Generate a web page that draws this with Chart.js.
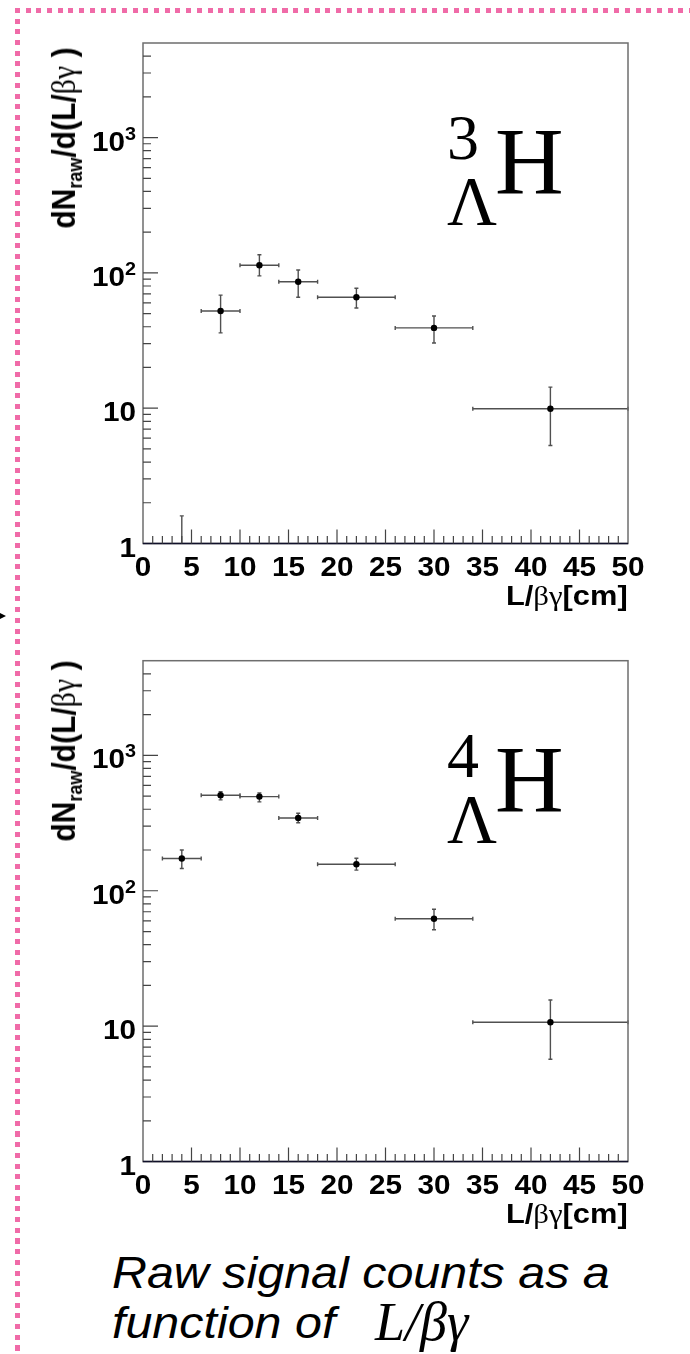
<!DOCTYPE html>
<html><head><meta charset="utf-8">
<script src="https://cdn.jsdelivr.net/npm/chart.js@4.4.0/dist/chart.umd.min.js"></script>
<style>
html,body{margin:0;padding:0;background:#fff;}
body{width:690px;height:1354px;position:relative;overflow:hidden;}
canvas.cv{position:absolute;left:0;}
.pink-top{position:absolute;left:15px;top:8px;width:675px;height:5px;background:repeating-linear-gradient(90deg,#f06ba8 0 5px,transparent 5px 10.7px);}
.pink-left{position:absolute;left:15px;top:8px;width:5px;height:1346px;background:repeating-linear-gradient(180deg,#f06ba8 0 5px,transparent 5px 10.7px);}
.arrow{position:absolute;left:0;top:613px;width:0;height:0;border-top:3.5px solid transparent;border-bottom:3.5px solid transparent;border-left:6px solid #000;}
.ytitle{position:absolute;font-family:"Liberation Sans",Arial,sans-serif;font-weight:bold;font-size:30px;line-height:1;white-space:nowrap;color:#000;transform:translate(-50%,-50%) scaleX(1.12) rotate(-90deg);}
.ytitle sub{font-size:18px;vertical-align:-6px;line-height:0;}
.sym{font-family:"Liberation Serif","Times New Roman",serif;font-weight:normal;}
.xtitle{position:absolute;right:62px;font-family:"Liberation Sans",Arial,sans-serif;font-weight:bold;font-size:28px;line-height:1;white-space:nowrap;transform:scaleX(1.1);transform-origin:right center;}
.big{position:absolute;font-family:"Liberation Serif","Times New Roman",serif;line-height:1;white-space:nowrap;color:#000;}
.cap{position:absolute;left:112px;font-family:"Liberation Sans",Arial,sans-serif;font-style:italic;font-size:44px;line-height:1;white-space:nowrap;transform:scaleX(1.1);transform-origin:left center;}
.capmath{position:absolute;font-family:"Liberation Serif","Times New Roman",serif;font-style:italic;font-size:54px;line-height:1;white-space:nowrap;}
</style>
</head>
<body>
<div class="pink-top"></div>
<div class="pink-left"></div>
<div class="arrow"></div>

<canvas id="c1" class="cv" width="690" height="620" style="top:0px"></canvas>
<canvas id="c2" class="cv" width="690" height="620" style="top:620px"></canvas>

<div class="ytitle" style="left:64px;top:138px">dN<sub>raw</sub>/d(L/<span class="sym">βγ</span> )</div>
<div class="ytitle" style="left:64px;top:751px">dN<sub>raw</sub>/d(L/<span class="sym">βγ</span> )</div>

<div class="xtitle" style="top:582px">L/<span class="sym">βγ</span>[cm]</div>
<div class="xtitle" style="top:1200px">L/<span class="sym">βγ</span>[cm]</div>

<div class="big" style="left:447px;top:106px;font-size:64px">3</div>
<div class="big" style="left:447px;top:168px;font-size:69px">Λ</div>
<div class="big" style="left:495px;top:115px;font-size:95px">H</div>

<div class="big" style="left:447px;top:724px;font-size:64px">4</div>
<div class="big" style="left:447px;top:786px;font-size:69px">Λ</div>
<div class="big" style="left:495px;top:733px;font-size:95px">H</div>

<div class="cap" style="top:1251px">Raw signal counts as a</div>
<div class="cap" style="top:1301px">function of</div>
<div class="capmath" style="left:375px;top:1295px">L/βγ</div>

<script>
// ---- data ----
const binCenters = [4, 8, 12, 16, 22, 30, 42];
const binLow     = [2, 6, 10, 14, 18, 26, 34];
const binHigh    = [6, 10, 14, 18, 26, 34, 50];

const h3Counts = [0, 52.3, 114, 86, 66, 39.2, 9.9];
const h3Upper  = [1.6, 68.5, 136, 105, 77, 48, 14.3];
const h3Lower  = [0, 36, 95, 66, 55, 30.3, 5.3];

const h4Counts = [173, 507, 496, 345, 157, 62.2, 10.7];
const h4Upper  = [200, 540, 527, 374, 174, 73, 15.6];
const h4Lower  = [146, 469, 453, 318, 142, 51.6, 5.7];

const xTickValues = [0, 5, 10, 15, 20, 25, 30, 35, 40, 45, 50];
const xTickLabels = ['0', '5', '10', '15', '20', '25', '30', '35', '40', '45', '50'];
const yTickValues = [1, 10, 100, 1000];
const yTickBase   = ['1', '10', '10', '10'];
const yTickExp    = ['', '', '2', '3'];

const X_MIN = 0, X_MAX = 50, Y_MIN = 1, Y_MAX = 5000;

// ---- plugins ----
const errorBarPlugin = {
  id: 'errorBars',
  beforeDatasetsDraw(chart, args, opts) {
    const ctx = chart.ctx, xs = chart.scales.x, ys = chart.scales.y, ca = chart.chartArea;
    const vals = opts.values, up = opts.upper, lo = opts.lower;
    ctx.save();
    ctx.strokeStyle = '#505050';
    ctx.lineWidth = 1.4;
    const cap = 2;
    for (let i = 0; i < binCenters.length; i++) {
      const xc = xs.getPixelForValue(binCenters[i]);
      const x0 = xs.getPixelForValue(binLow[i]);
      const x1 = xs.getPixelForValue(binHigh[i]);
      const yTop = ys.getPixelForValue(up[i]);
      const yBot = lo[i] > 0 ? ys.getPixelForValue(lo[i]) : ca.bottom;
      ctx.beginPath();
      ctx.moveTo(xc, yTop); ctx.lineTo(xc, yBot);
      ctx.moveTo(xc - cap, yTop); ctx.lineTo(xc + cap, yTop);
      if (lo[i] > 0) { ctx.moveTo(xc - cap, yBot); ctx.lineTo(xc + cap, yBot); }
      if (vals[i] > 0) {
        const y = ys.getPixelForValue(vals[i]);
        ctx.moveTo(x0, y); ctx.lineTo(x1, y);
        ctx.moveTo(x0, y - cap); ctx.lineTo(x0, y + cap);
        ctx.moveTo(x1, y - cap); ctx.lineTo(x1, y + cap);
      }
      ctx.stroke();
    }
    ctx.restore();
  }
};

function stretchedText(ctx, text, x, y, align) {
  ctx.save();
  ctx.translate(x, y);
  ctx.scale(1.1, 1);
  ctx.textAlign = align;
  ctx.fillText(text, 0, 0);
  ctx.restore();
}

const LABEL_FONT = 'bold 27px "Liberation Sans", Arial, sans-serif';
const EXP_FONT = 'bold 18px "Liberation Sans", Arial, sans-serif';

const framePlugin = {
  id: 'rootFrame',
  afterDraw(chart) {
    const ctx = chart.ctx, xs = chart.scales.x, ys = chart.scales.y, ca = chart.chartArea;
    ctx.save();
    // frame
    ctx.strokeStyle = '#6e6e6e';
    ctx.lineWidth = 1.5;
    ctx.strokeRect(ca.left, ca.top, ca.right - ca.left, ca.bottom - ca.top);
    ctx.strokeStyle = '#10102a';
    ctx.beginPath(); ctx.moveTo(ca.left, ca.bottom); ctx.lineTo(ca.right, ca.bottom); ctx.stroke();
    // y ticks (inside)
    ctx.strokeStyle = '#444';
    ctx.lineWidth = 1.2;
    ctx.beginPath();
    for (let d = 0; d <= 3; d++) {
      for (let m = 1; m <= 9; m++) {
        const v = m * Math.pow(10, d);
        if (v <= Y_MIN || v >= Y_MAX) continue;
        const y = ys.getPixelForValue(v);
        const len = m === 1 ? 15 : 8;
        ctx.moveTo(ca.left, y); ctx.lineTo(ca.left + len, y);
      }
    }
    // x ticks (inside)
    for (let v = X_MIN + 1; v < X_MAX; v++) {
      const x = xs.getPixelForValue(v);
      const len = v % 5 === 0 ? 14 : 7.5;
      ctx.moveTo(x, ca.bottom); ctx.lineTo(x, ca.bottom - len);
    }
    ctx.stroke();
    // labels
    ctx.fillStyle = '#000';
    ctx.font = LABEL_FONT;
    ctx.textBaseline = 'alphabetic';
    xTickValues.forEach((v, i) => {
      stretchedText(ctx, xTickLabels[i], xs.getPixelForValue(v), ca.bottom + 32, 'center');
    });
    const rightEdge = 136;
    yTickValues.forEach((v, i) => {
      const y = ys.getPixelForValue(v) + 13;
      ctx.font = LABEL_FONT;
      const bw = ctx.measureText(yTickBase[i]).width * 1.1;
      let ew = 0;
      if (yTickExp[i]) {
        ctx.font = EXP_FONT;
        ew = ctx.measureText(yTickExp[i]).width * 1.1;
        stretchedText(ctx, yTickExp[i], rightEdge - ew, y - 11, 'left');
      }
      ctx.font = LABEL_FONT;
      stretchedText(ctx, yTickBase[i], rightEdge - ew - bw, y, 'left');
    });
    ctx.restore();
  }
};

function makeChart(id, counts, upper, lower, padTop, padBottom) {
  const pts = binCenters.map((x, i) => ({ x: x, y: counts[i] }));
  return new Chart(document.getElementById(id), {
    type: 'scatter',
    data: { datasets: [{
      data: pts,
      pointRadius: ctx => (ctx.raw && ctx.raw.y > 0 ? 3.2 : 0),
      pointBackgroundColor: '#000',
      pointBorderWidth: 0,
      showLine: false
    }]},
    options: {
      responsive: false,
      animation: false,
      events: [],
      layout: { padding: { left: 143, right: 62, top: padTop, bottom: padBottom } },
      plugins: {
        legend: { display: false },
        tooltip: { enabled: false },
        errorBars: { values: counts, upper: upper, lower: lower }
      },
      scales: {
        x: { type: 'linear', min: X_MIN, max: X_MAX, display: false },
        y: { type: 'logarithmic', min: Y_MIN, max: Y_MAX, display: false }
      }
    },
    plugins: [errorBarPlugin, framePlugin]
  });
}

makeChart('c1', h3Counts, h3Upper, h3Lower, 43, 620 - 543.5);
makeChart('c2', h4Counts, h4Upper, h4Lower, 660.7 - 620, 620 - (1161.6 - 620));
</script>
</body></html>
